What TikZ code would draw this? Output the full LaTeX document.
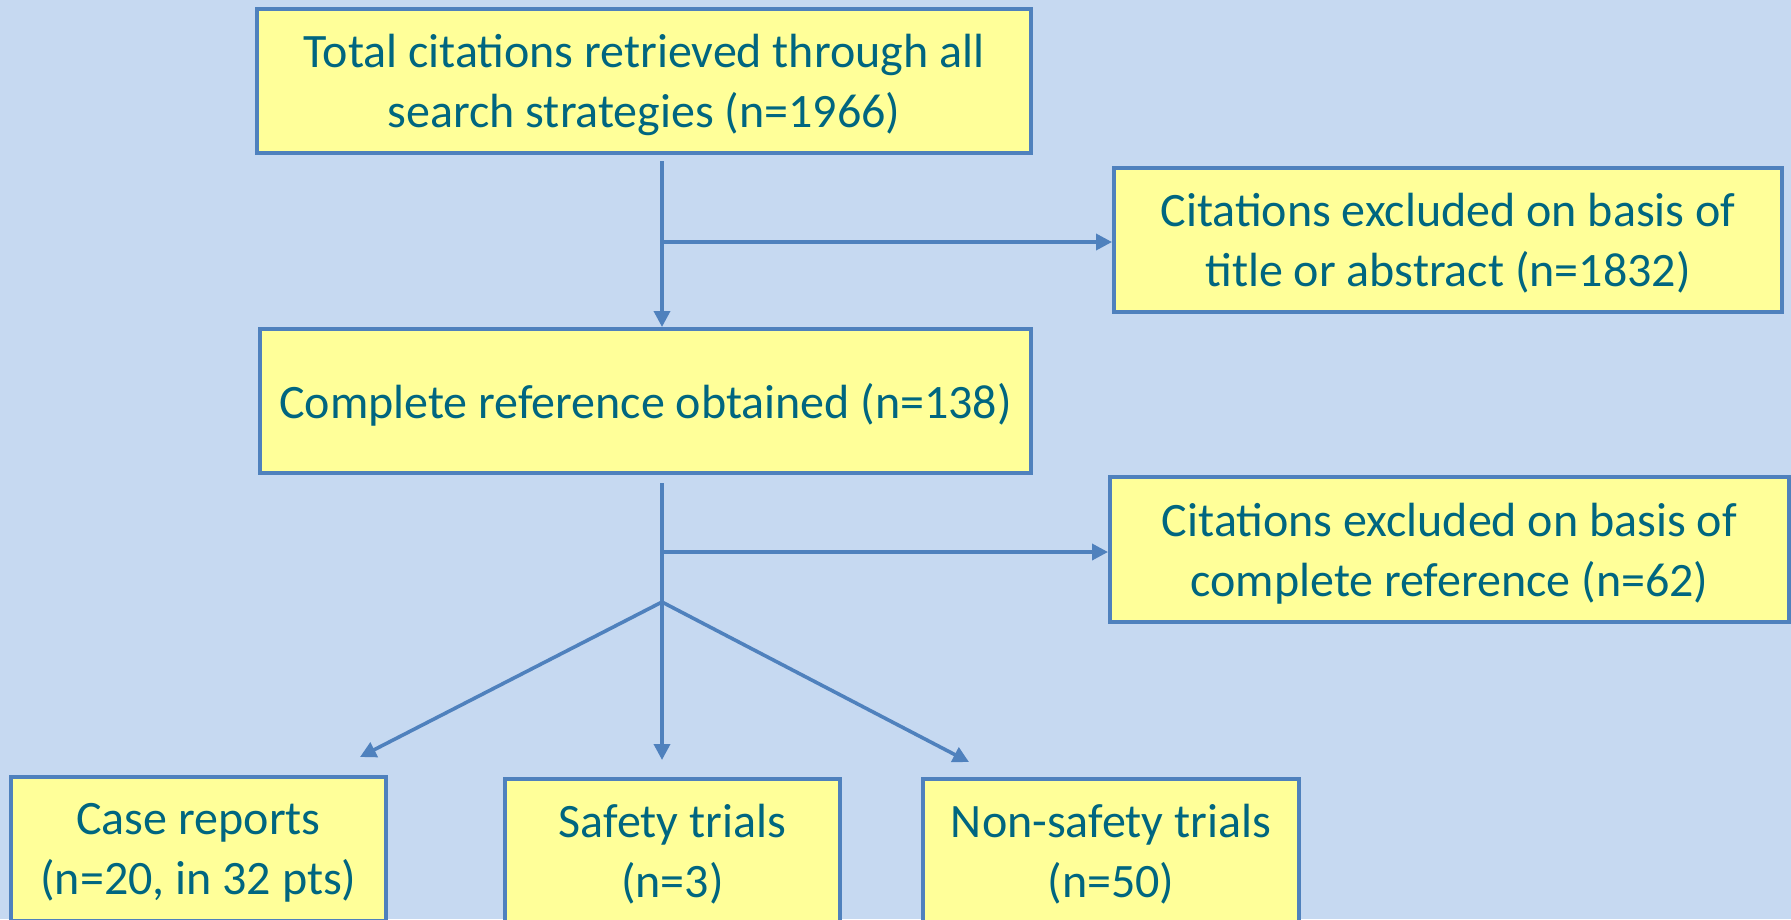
\documentclass[tikz,border=0pt]{standalone}
\usepackage{fontspec}
\setmainfont{Carlito}
\usetikzlibrary{arrows.meta,positioning}
\definecolor{bgblue}{HTML}{C6D9F1}
\definecolor{boxyellow}{HTML}{FFFF99}
\definecolor{edgeblue}{HTML}{4F81BD}
\definecolor{textteal}{RGB}{0,102,128}
\tikzset{
  flowbox/.style={draw=edgeblue,fill=boxyellow,line width=4pt,rectangle,align=center,
    inner sep=0pt,text=textteal,font=\fontsize{48}{60}\selectfont,text depth=0pt},
  flowarrow/.style={edgeblue,line width=3.6pt,-{Triangle[length=16pt,width=16pt]}},
  flowline/.style={edgeblue,line width=3.6pt}
}
\begin{document}
\begin{tikzpicture}[x=1pt,y=1pt]
                    \useasboundingbox (0,0) rectangle (1791,-919);
                    \fill[bgblue] (0,0) rectangle (1791,-919);
                    % Nodes
                    \node[flowbox,minimum width=774pt,minimum height=144pt] (total) at (644,-81) {Total citations retrieved through all\\search strategies (n=1966)};
                    \node[flowbox,minimum width=668pt,minimum height=144pt] (excltitle) at (1448,-240) {Citations excluded on basis of\\title or abstract (n=1832)};
                    \node[flowbox,minimum width=771pt,minimum height=144pt] (complete) at (645.5,-401) {Complete reference obtained (n=138)};
                    \node[flowbox,minimum width=679pt,minimum height=145pt] (exclref) at (1449.5,-549.5) {Citations excluded on basis of\\complete reference (n=62)};
                    \node[flowbox,minimum width=375pt,minimum height=144pt] (cases) at (198.5,-849) {Case reports\\(n=20, in 32 pts)};
                    \node[flowbox,minimum width=335pt,minimum height=144pt] (safety) at (672.5,-851) {Safety trials\\(n=3)};
                    \node[flowbox,minimum width=376pt,minimum height=144pt] (nonsafety) at (1111,-851) {Non-safety trials\\(n=50)};

                    % Junctions
                    \coordinate (jtitle) at (662,-242);
                    \coordinate (jref) at (662,-552);
                    \coordinate (split) at (662,-602);
                    \coordinate (endcases) at (360,-757);
                    \coordinate (endnonsafety) at (969,-762);

                    % Arrows
                    \draw[flowarrow,shorten <=6pt] (total.south -| jtitle) -- (complete.north -| jtitle);
                    \draw[flowarrow] (jtitle) -- (jtitle -| excltitle.west);
                    \draw[flowarrow,shorten <=8pt,shorten >=17pt] (complete.south -| jref) -- (safety.north -| jref);
                    \draw[flowarrow] (jref) -- (jref -| exclref.west);
                    \draw[flowarrow] (split) -- (endcases);
                    \draw[flowarrow] (split) -- (endnonsafety);
                \end{tikzpicture}
\end{document}
